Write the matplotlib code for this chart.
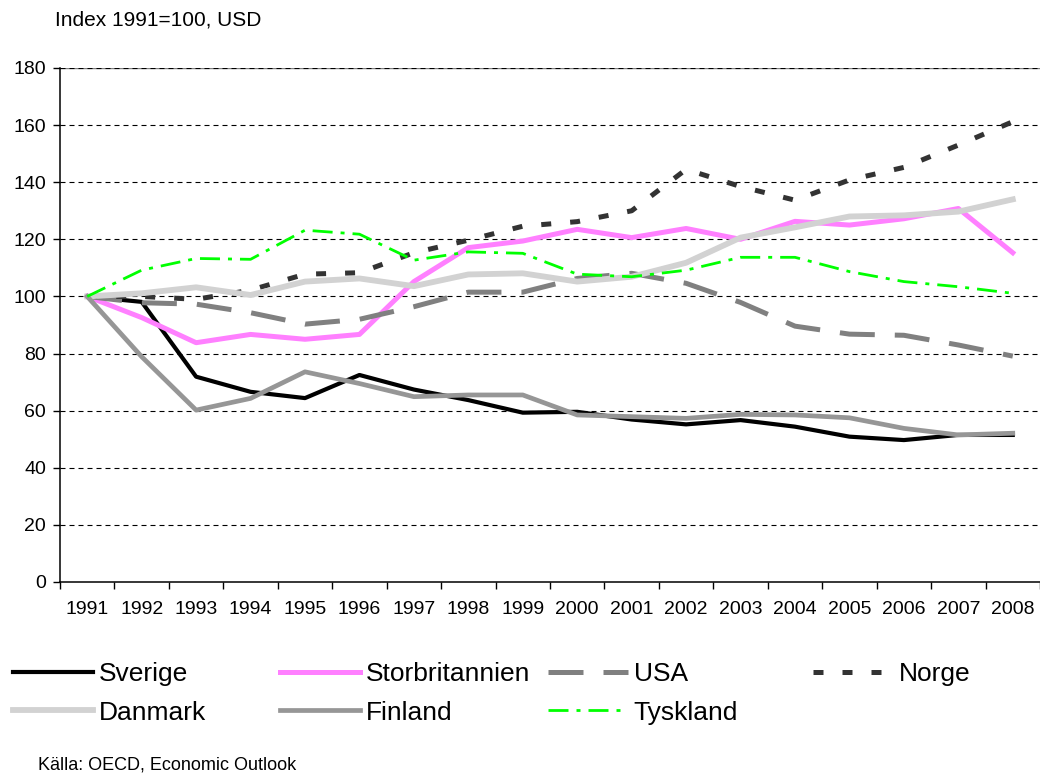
import matplotlib
matplotlib.use("Agg")
import matplotlib.pyplot as plt

plt.rcParams['font.family'] = ['Liberation Sans', 'DejaVu Sans']
plt.rcParams['lines.scale_dashes'] = False

years = [str(y) for y in range(1991, 2009)]
sverige = [100, 98.1, 71.9, 66.6, 64.4, 72.5, 67.4, 63.7, 59.3, 59.6, 56.9, 55.2, 56.7, 54.4, 50.9, 49.7, 51.5, 51.5]
storbritannien = [100, 92.6, 83.8, 86.7, 85.0, 86.7, 105.2, 117.1, 119.4, 123.5, 120.6, 123.8, 120.0, 126.3, 125.0, 127.2, 130.8, 115.3]
usa = [100, 97.8, 97.3, 94.3, 90.3, 92.0, 96.4, 101.5, 101.5, 106.3, 108.1, 104.6, 97.9, 89.6, 86.8, 86.4, 83.0, 79.1]
norge = [100, 100.0, 99.0, 102.2, 107.8, 108.3, 115.3, 119.7, 124.6, 126.2, 130.0, 144.5, 138.5, 133.7, 140.8, 145.2, 153.0, 161.2]
danmark = [100, 101.1, 103.2, 100.5, 105.2, 106.3, 103.6, 107.7, 108.1, 105.2, 106.9, 111.8, 120.6, 124.2, 128.0, 128.4, 129.7, 134.0]
finland = [100, 78.9, 60.2, 64.3, 73.6, 69.5, 64.9, 65.5, 65.5, 58.5, 57.9, 57.3, 58.7, 58.5, 57.5, 53.8, 51.5, 52.1]
tyskland = [100, 109.2, 113.3, 113.0, 123.2, 121.8, 112.7, 115.6, 115.1, 107.8, 106.9, 109.2, 113.7, 113.7, 108.7, 105.2, 103.4, 101.1]

fig = plt.figure(figsize=(10.4, 7.78), dpi=100)
ax = fig.add_axes([60/1040, 1-582/778, 980/1040, (582-68)/778])

x = list(range(len(years)))
px = 72/100.0  # points per pixel

ax.plot(x, sverige, color='black', lw=3.0, label='Sverige')
ax.plot(x, storbritannien, color='#FF80FF', lw=3.6, label='Storbritannien')
ax.plot(x, usa, color='#808080', lw=3.6, dashes=(35*px, 20*px), dash_capstyle='butt', label='USA')
ax.plot(x, norge, color='#333333', lw=3.6, dashes=(10*px, 19*px), dash_capstyle='butt', label='Norge')
ax.plot(x, danmark, color='#d2d2d2', lw=4.2, label='Danmark')
ax.plot(x, finland, color='#969696', lw=3.4, label='Finland')
ax.plot(x, tyskland, color='#00FF00', lw=2.0, dashes=(20*px, 8*px, 4*px, 8*px), dash_capstyle='butt', label='Tyskland')

ax.set_xlim(-0.5, len(years) - 0.5)
ax.set_ylim(0, 180)
ax.set_yticks(range(0, 181, 20))
ax.set_xticks([i + 0.5 for i in range(-1, len(years))], minor=False)
ax.set_xticklabels([])
ax.set_xticks(x, minor=True)
ax.set_xticklabels(years, minor=True)
ax.tick_params(axis='x', which='major', direction='out', length=5, width=1, color='black')
ax.tick_params(axis='x', which='minor', length=0, pad=13.5, labelsize=14)
ax.tick_params(axis='y', direction='out', length=5, width=1, labelsize=14, pad=5)

ax.axhline(180, color='#808080', lw=1.0, zorder=0.4)
for v in range(20, 181, 20):
    ax.axhline(v, color='black', lw=0.8, dashes=(5*px, 4*px), zorder=0.5)

for s in ['top', 'right']:
    ax.spines[s].set_visible(False)
ax.spines['left'].set_linewidth(1.1)
ax.spines['bottom'].set_linewidth(1.1)

fig.text(55/1040, 1-20/778, 'Index 1991=100, USD', fontsize=15, va='center', ha='left')
fig.text(38/1040, 1-765/778, 'Källa: OECD, Economic Outlook', fontsize=13, va='center', ha='left')

handles, labels = ax.get_legend_handles_labels()
hl = dict(zip(labels, handles))
cols = [(['Sverige', 'Danmark'], 13), (['Storbritannien', 'Finland'], 280),
        (['USA', 'Tyskland'], 548), (['Norge'], 813)]
for names, xpix in cols:
    fig.legend([hl[n] for n in names], names, loc='upper left',
               bbox_to_anchor=(xpix/1040, 1-662/778), frameon=False,
               borderpad=0, borderaxespad=0, handlelength=3.05, handletextpad=0.2,
               labelspacing=0.55, fontsize=19)

fig.savefig('out.png', dpi=100)
